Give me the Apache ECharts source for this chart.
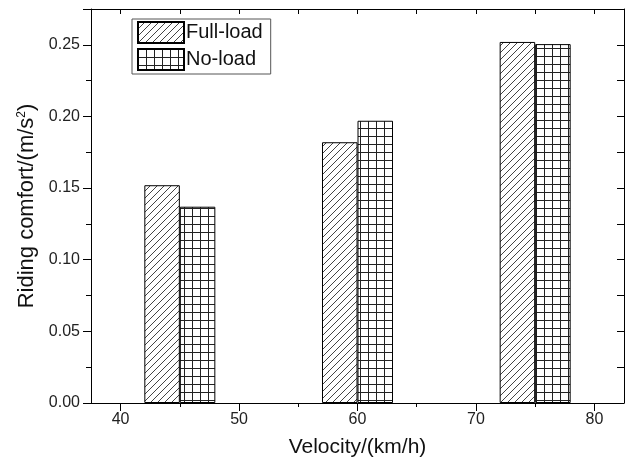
<!DOCTYPE html>
<html>
<head>
<meta charset="utf-8">
<script src="https://cdn.jsdelivr.net/npm/echarts@6/dist/echarts.min.js"></script>
<style>
html, body { margin: 0; padding: 0; background: #fff; }
#chart { width: 626px; height: 466px; }
</style>
</head>
<body>
<div id="chart"></div>
<script>
// values
const velocities = [45, 60, 75];
const fullLoad = [0.152, 0.182, 0.252];
const noLoad = [0.137, 0.197, 0.2505];
const xTicks = [40, 50, 60, 70, 80];
const xMinorTicks = [45, 55, 65, 75];
const xTopTicks = [40, 45, 50, 55, 60, 65, 70, 75, 80];

const FONT = 'Liberation Sans';

// hatch pattern for full-load bars
function makeHatch() {
	const c = document.createElement('canvas');
	c.width = 7; c.height = 7;
	const g = c.getContext('2d');
	g.fillStyle = '#fff';
	g.fillRect(0, 0, 7, 7);
	g.strokeStyle = '#444';
	g.lineWidth = 1;
	g.beginPath();
	g.moveTo(-1, 8); g.lineTo(8, -1);
	g.moveTo(-2, 2); g.lineTo(2, -2);
	g.moveTo(5, 9); g.lineTo(9, 5);
	g.stroke();
	return c;
}

// square grid pattern for no-load bars
function makeGrid() {
	const c = document.createElement('canvas');
	c.width = 8; c.height = 8;
	const g = c.getContext('2d');
	g.fillStyle = '#fff';
	g.fillRect(0, 0, 8, 8);
	g.fillStyle = '#222';
	g.fillRect(0, 0, 8, 1);
	g.fillRect(0, 0, 1, 8);
	return c;
}

const chart = echarts.init(document.getElementById('chart'), null, { renderer: 'canvas' });

const xMin = 37.5, xMax = 82.5;
const yMin = 0, yMax = 0.275;

const option = {
	animation: false,
	backgroundColor: '#fff',
	textStyle: { fontFamily: FONT },
	grid: { left: 91, right: 2, top: 9, bottom: 63 },
	legend: {
		left: 132, top: 19,
		orient: 'vertical',
		icon: 'rect',
		itemWidth: 46, itemHeight: 21,
		itemGap: 4,
		padding: [2, 8, 3, 5],
		borderColor: '#555', borderWidth: 1,
		textStyle: { fontFamily: FONT, fontSize: 20, color: '#111', padding: [0, 0, 0, -3] },
		data: ['Full-load', 'No-load']
	},
	xAxis: [
		{
			type: 'value', position: 'bottom', min: xMin, max: xMax,
			name: 'Velocity/(km/h)', nameLocation: 'middle', nameGap: 34,
			nameTextStyle: { fontFamily: FONT, fontSize: 21, color: '#111' },
			axisLine: { lineStyle: { color: '#000', width: 1 } },
			axisTick: { inside: false, length: 8, customValues: xTicks, lineStyle: { color: '#000' } },
			axisLabel: { customValues: xTicks, fontSize: 16, color: '#222', margin: 9, fontFamily: FONT },
			splitLine: { show: false }
		},
		{
			type: 'value', position: 'bottom', min: xMin, max: xMax,
			axisLine: { show: false },
			axisTick: { inside: false, length: 4, customValues: xMinorTicks, lineStyle: { color: '#000' } },
			axisLabel: { show: false },
			splitLine: { show: false }
		},
		{
			type: 'value', position: 'top', min: xMin, max: xMax,
			axisLine: { lineStyle: { color: '#000', width: 1 } },
			axisTick: { inside: true, length: 5, customValues: xTopTicks, lineStyle: { color: '#000' } },
			axisLabel: { show: false },
			splitLine: { show: false }
		}
	],
	yAxis: [
		{
			type: 'value', position: 'left', min: yMin, max: yMax, interval: 0.05,
			name: 'Riding comfort/(m/s{sup|2})', nameLocation: 'middle', nameGap: 53,
			nameTextStyle: {
				fontFamily: FONT, fontSize: 22, color: '#111',
				rich: { sup: { fontFamily: FONT, fontSize: 12, color: '#111', verticalAlign: 'top', padding: [0, 0, 10, 0] } }
			},
			axisLine: { show: true, lineStyle: { color: '#000', width: 1 } },
			axisTick: { show: true, inside: false, length: 8, lineStyle: { color: '#000' } },
			minorTick: { show: true, splitNumber: 2, length: 5, lineStyle: { color: '#000' } },
			axisLabel: {
				fontSize: 16, color: '#222', margin: 11, fontFamily: FONT,
				showMaxLabel: false,
				formatter: v => v.toFixed(2)
			},
			splitLine: { show: false }
		},
		{
			type: 'value', position: 'right', min: yMin, max: yMax, interval: 0.025,
			axisLine: { show: true, lineStyle: { color: '#000', width: 1 } },
			axisTick: { show: true, inside: true, length: 7, lineStyle: { color: '#000' } },
			axisLabel: { show: false },
			splitLine: { show: false }
		}
	],
	series: [
		{
			name: 'Full-load', type: 'bar', xAxisIndex: 0, yAxisIndex: 0,
			data: velocities.map((v, i) => [v, fullLoad[i]]),
			barWidth: 35.5, barGap: '0%',
			itemStyle: { color: { image: makeHatch(), repeat: 'repeat' }, borderColor: '#000', borderWidth: 1 }
		},
		{
			name: 'No-load', type: 'bar', xAxisIndex: 0, yAxisIndex: 0,
			data: velocities.map((v, i) => [v, noLoad[i]]),
			barWidth: 35.5, barGap: '0%',
			itemStyle: { color: { image: makeGrid(), repeat: 'repeat' }, borderColor: '#000', borderWidth: 1 }
		}
	]
};

chart.setOption(option);
</script>
</body>
</html>
